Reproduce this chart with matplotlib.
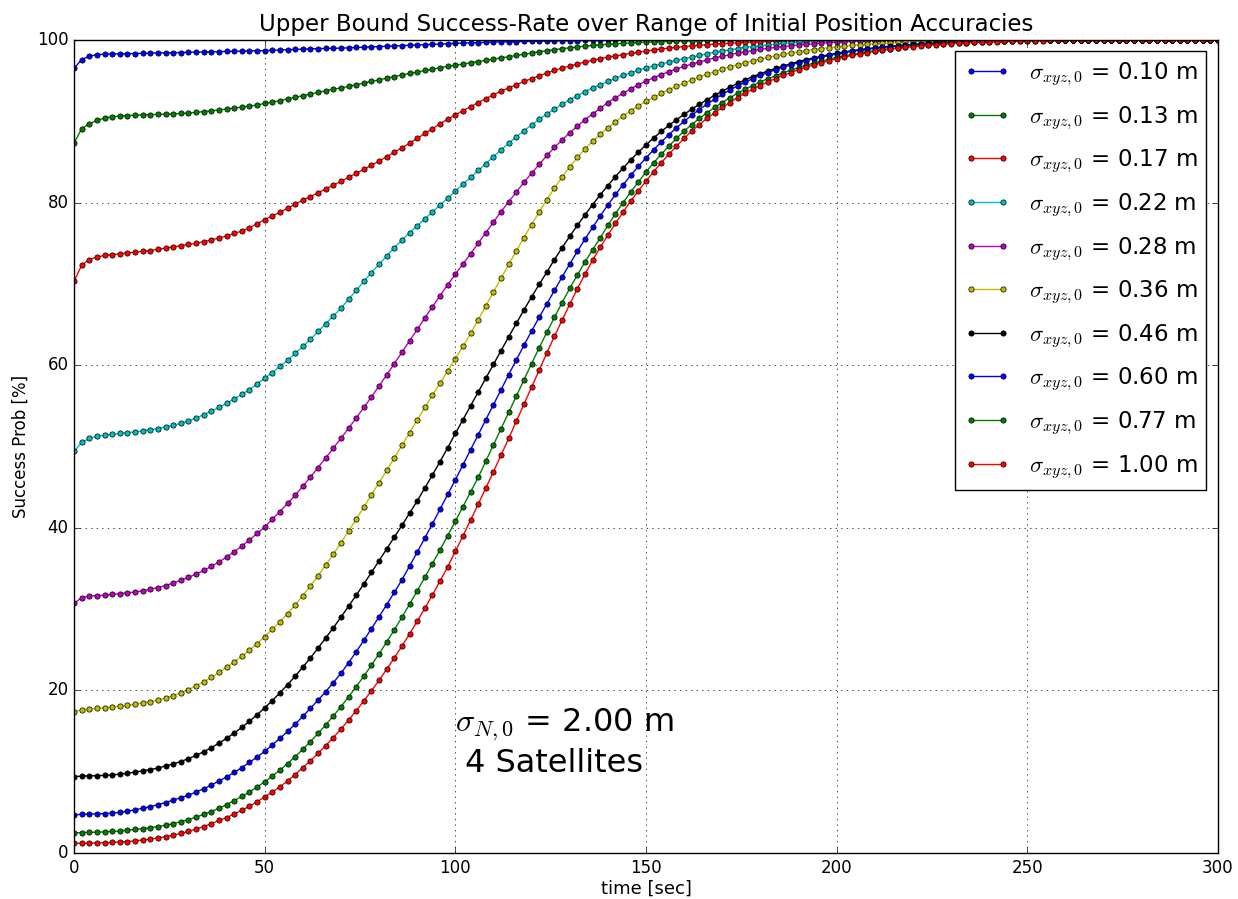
import matplotlib
matplotlib.use('Agg')
import matplotlib.pyplot as plt
import numpy as np

plt.style.use('classic')

# time axis, one sample every 2 sec
t = np.arange(0, 301, 2)

sigma_labels = ['0.10', '0.13', '0.17', '0.22', '0.28', '0.36', '0.46', '0.60', '0.77', '1.00']
line_colors = ['b', 'g', 'r', 'c', 'm', 'y', 'k', 'b', 'g', 'r']

# success probability [%]
p_010 = [96.5, 97.6, 98.0, 98.2, 98.25, 98.3, 98.3, 98.32, 98.34, 98.36,
         98.4, 98.41, 98.42, 98.44, 98.46, 98.5, 98.51, 98.53, 98.55, 98.58,
         98.6, 98.62, 98.64, 98.66, 98.68, 98.7, 98.73, 98.77, 98.81, 98.85,
         98.9, 98.92, 98.94, 98.96, 98.98, 99.0, 99.04, 99.08, 99.12, 99.16,
         99.2, 99.24, 99.28, 99.32, 99.36, 99.4, 99.44, 99.48, 99.52, 99.56,
         99.6, 99.63, 99.66, 99.69, 99.72, 99.75, 99.77, 99.79, 99.81, 99.83,
         99.85, 99.87, 99.88, 99.9, 99.91, 99.92, 99.93, 99.94, 99.95, 99.96,
         99.96, 99.97, 99.97, 99.98, 99.98, 99.98, 99.99, 99.99, 99.99, 99.99,
         100, 100, 100, 100, 100, 100, 100, 100, 100, 100,
         100, 100, 100, 100, 100, 100, 100, 100, 100, 100,
         100, 100, 100, 100, 100, 100, 100, 100, 100, 100,
         100, 100, 100, 100, 100, 100, 100, 100, 100, 100,
         100, 100, 100, 100, 100, 100, 100, 100, 100, 100,
         100, 100, 100, 100, 100, 100, 100, 100, 100, 100,
         100, 100, 100, 100, 100, 100, 100, 100, 100, 100,
         100]

p_013 = [87.3, 89.1, 89.7, 90.1, 90.4, 90.55, 90.65, 90.7, 90.75, 90.8,
         90.82, 90.85, 90.88, 90.92, 90.96, 91.0, 91.1, 91.2, 91.3, 91.4,
         91.5, 91.62, 91.75, 91.88, 92.0, 92.2, 92.35, 92.55, 92.75, 92.95,
         93.15, 93.35, 93.55, 93.75, 93.95, 94.1, 94.3, 94.5, 94.7, 94.9,
         95.1, 95.3, 95.5, 95.7, 95.9, 96.05, 96.25, 96.4, 96.6, 96.75,
         96.9, 97.05, 97.2, 97.35, 97.5, 97.65, 97.8, 97.95, 98.1, 98.25,
         98.4, 98.55, 98.7, 98.82, 98.94, 99.05, 99.15, 99.25, 99.33, 99.41,
         99.48, 99.54, 99.6, 99.65, 99.7, 99.74, 99.78, 99.81, 99.84, 99.87,
         99.89, 99.91, 99.93, 99.94, 99.95, 99.96, 99.97, 99.98, 99.98, 99.99,
         99.99, 99.99, 100, 100, 100, 100, 100, 100, 100, 100,
         100, 100, 100, 100, 100, 100, 100, 100, 100, 100,
         100, 100, 100, 100, 100, 100, 100, 100, 100, 100,
         100, 100, 100, 100, 100, 100, 100, 100, 100, 100,
         100, 100, 100, 100, 100, 100, 100, 100, 100, 100,
         100, 100, 100, 100, 100, 100, 100, 100, 100, 100,
         100]

p_017 = [70.3, 72.3, 73.0, 73.3, 73.5, 73.6, 73.7, 73.8, 73.9, 74.0,
         74.1, 74.25, 74.4, 74.55, 74.7, 74.85, 75.0, 75.2, 75.4, 75.65,
         75.9, 76.2, 76.5, 76.9, 77.4, 77.9, 78.35, 78.8, 79.3, 79.8,
         80.3, 80.75, 81.2, 81.7, 82.15, 82.6, 83.1, 83.6, 84.1, 84.6,
         85.1, 85.65, 86.2, 86.75, 87.3, 87.9, 88.5, 89.1, 89.7, 90.25,
         90.8, 91.3, 91.8, 92.3, 92.8, 93.25, 93.7, 94.1, 94.5, 94.9,
         95.25, 95.6, 95.95, 96.25, 96.55, 96.8, 97.05, 97.3, 97.5, 97.7,
         97.9, 98.05, 98.2, 98.35, 98.5, 98.65, 98.78, 98.9, 99.0, 99.1,
         99.2, 99.28, 99.36, 99.43, 99.5, 99.56, 99.62, 99.67, 99.72, 99.76,
         99.8, 99.83, 99.86, 99.89, 99.91, 99.93, 99.95, 99.96, 99.97, 99.98,
         99.99, 99.99, 100, 100, 100, 100, 100, 100, 100, 100,
         100, 100, 100, 100, 100, 100, 100, 100, 100, 100,
         100, 100, 100, 100, 100, 100, 100, 100, 100, 100,
         100, 100, 100, 100, 100, 100, 100, 100, 100, 100,
         100, 100, 100, 100, 100, 100, 100, 100, 100, 100,
         100]

p_022 = [49.4, 50.5, 51.0, 51.25, 51.4, 51.5, 51.6, 51.7, 51.8, 51.9,
         52.05, 52.2, 52.4, 52.6, 52.85, 53.15, 53.5, 53.9, 54.35, 54.8,
         55.3, 55.85, 56.4, 57.0, 57.7, 58.4, 59.1, 59.85, 60.6, 61.45,
         62.3, 63.2, 64.15, 65.1, 66.05, 67.0, 68.1, 69.2, 70.3, 71.4,
         72.4, 73.45, 74.45, 75.4, 76.3, 77.15, 78.0, 78.85, 79.7, 80.55,
         81.4, 82.25, 83.1, 83.95, 84.8, 85.65, 86.5, 87.3, 88.1, 88.85,
         89.55, 90.25, 90.9, 91.5, 92.1, 92.65, 93.15, 93.65, 94.1, 94.5,
         94.9, 95.3, 95.65, 95.95, 96.25, 96.55, 96.8, 97.05, 97.3, 97.5,
         97.7, 97.9, 98.1, 98.3, 98.5, 98.65, 98.8, 98.95, 99.1, 99.2,
         99.3, 99.4, 99.5, 99.58, 99.65, 99.72, 99.78, 99.83, 99.87, 99.9,
         99.93, 99.95, 99.97, 99.98, 99.99, 100, 100, 100, 100, 100,
         100, 100, 100, 100, 100, 100, 100, 100, 100, 100,
         100, 100, 100, 100, 100, 100, 100, 100, 100, 100,
         100, 100, 100, 100, 100, 100, 100, 100, 100, 100,
         100, 100, 100, 100, 100, 100, 100, 100, 100, 100,
         100]

p_028 = [30.7, 31.4, 31.6, 31.65, 31.7, 31.8, 31.9, 32.0, 32.1, 32.25,
         32.45, 32.65, 32.9, 33.2, 33.55, 33.9, 34.3, 34.75, 35.25, 35.8,
         36.4, 37.05, 37.75, 38.5, 39.3, 40.1, 41.05, 42.0, 43.0, 44.0,
         45.1, 46.25, 47.4, 48.6, 49.8, 51.0, 52.25, 53.5, 54.8, 56.1,
         57.45, 58.8, 60.2, 61.6, 63.0, 64.4, 65.8, 67.2, 68.55, 69.9,
         71.2, 72.45, 73.7, 75.0, 76.3, 77.6, 78.9, 80.1, 81.3, 82.5,
         83.6, 84.7, 85.8, 86.8, 87.7, 88.6, 89.4, 90.2, 90.9, 91.6,
         92.3, 92.9, 93.45, 94.0, 94.5, 94.95, 95.35, 95.75, 96.1, 96.45,
         96.75, 97.05, 97.3, 97.55, 97.8, 98.0, 98.2, 98.4, 98.55, 98.7,
         98.85, 98.98, 99.1, 99.2, 99.3, 99.4, 99.48, 99.55, 99.62, 99.68,
         99.74, 99.79, 99.83, 99.87, 99.9, 99.93, 99.95, 99.97, 99.98, 99.99,
         100, 100, 100, 100, 100, 100, 100, 100, 100, 100,
         100, 100, 100, 100, 100, 100, 100, 100, 100, 100,
         100, 100, 100, 100, 100, 100, 100, 100, 100, 100,
         100, 100, 100, 100, 100, 100, 100, 100, 100, 100,
         100]

p_036 = [17.4, 17.6, 17.7, 17.8, 17.85, 17.95, 18.05, 18.15, 18.3, 18.45,
         18.6, 18.8, 19.05, 19.35, 19.7, 20.1, 20.55, 21.05, 21.6, 22.2,
         22.85, 23.5, 24.2, 24.95, 25.75, 26.6, 27.5, 28.45, 29.45, 30.5,
         31.65, 32.85, 34.1, 35.4, 36.75, 38.15, 39.6, 41.05, 42.55, 44.05,
         45.55, 47.05, 48.6, 50.15, 51.7, 53.25, 54.8, 56.3, 57.8, 59.3,
         60.8, 62.3, 63.9, 65.6, 67.3, 69.0, 70.7, 72.4, 74.05, 75.7,
         77.3, 78.85, 80.35, 81.8, 83.15, 84.4, 85.55, 86.6, 87.55, 88.4,
         89.2, 89.95, 90.65, 91.3, 91.9, 92.45, 92.95, 93.45, 93.9, 94.3,
         94.7, 95.1, 95.45, 95.8, 96.1, 96.4, 96.7, 96.95, 97.2, 97.45,
         97.65, 97.85, 98.05, 98.25, 98.4, 98.55, 98.7, 98.83, 98.95, 99.06,
         99.16, 99.25, 99.34, 99.42, 99.49, 99.55, 99.61, 99.66, 99.71, 99.75,
         99.79, 99.82, 99.85, 99.88, 99.9, 99.92, 99.94, 99.95, 99.96, 99.97,
         99.98, 99.98, 99.99, 99.99, 100, 100, 100, 100, 100, 100,
         100, 100, 100, 100, 100, 100, 100, 100, 100, 100,
         100, 100, 100, 100, 100, 100, 100, 100, 100, 100,
         100]

p_046 = [9.4, 9.45, 9.5, 9.5, 9.55, 9.6, 9.7, 9.8, 9.95, 10.1,
         10.25, 10.45, 10.7, 10.95, 11.25, 11.6, 12.0, 12.45, 12.95, 13.5,
         14.1, 14.75, 15.45, 16.2, 17.0, 17.85, 18.75, 19.7, 20.7, 21.75,
         22.85, 24.0, 25.2, 26.45, 27.7, 29.0, 30.35, 31.7, 33.1, 34.5,
         35.95, 37.4, 38.85, 40.3, 41.8, 43.3, 44.9, 46.5, 48.15, 49.85,
         51.6, 53.3, 55.0, 56.7, 58.4, 60.1, 61.8, 63.5, 65.15, 66.8,
         68.4, 69.95, 71.45, 73.0, 74.45, 75.85, 77.2, 78.5, 79.75, 80.95,
         82.1, 83.2, 84.25, 85.25, 86.2, 87.1, 87.95, 88.75, 89.5, 90.2,
         90.85, 91.5, 92.1, 92.65, 93.2, 93.7, 94.2, 94.65, 95.1, 95.5,
         95.85, 96.2, 96.5, 96.8, 97.1, 97.35, 97.6, 97.8, 98.0, 98.2,
         98.38, 98.54, 98.69, 98.82, 98.94, 99.05, 99.15, 99.24, 99.32, 99.4,
         99.47, 99.53, 99.59, 99.64, 99.69, 99.73, 99.77, 99.8, 99.83, 99.86,
         99.88, 99.9, 99.92, 99.94, 99.95, 99.96, 99.97, 99.98, 99.98, 99.99,
         99.99, 100, 100, 100, 100, 100, 100, 100, 100, 100,
         100, 100, 100, 100, 100, 100, 100, 100, 100, 100,
         100]

p_060 = [4.7, 4.75, 4.8, 4.8, 4.85, 4.9, 5.0, 5.15, 5.3, 5.5,
         5.7, 5.95, 6.2, 6.5, 6.8, 7.1, 7.5, 7.9, 8.35, 8.85,
         9.35, 9.9, 10.5, 11.15, 11.8, 12.5, 13.3, 14.1, 14.95, 15.85,
         16.8, 17.8, 18.8, 19.85, 20.95, 22.1, 23.4, 24.75, 26.15, 27.6,
         29.05, 30.55, 32.05, 33.6, 35.3, 37.0, 38.75, 40.5, 42.3, 44.1,
         45.9, 47.75, 49.6, 51.45, 53.3, 55.15, 57.0, 58.85, 60.65, 62.45,
         64.2, 65.9, 67.55, 69.2, 70.85, 72.45, 74.0, 75.5, 76.95, 78.35,
         79.7, 81.0, 82.2, 83.35, 84.45, 85.5, 86.5, 87.45, 88.35, 89.2,
         90.0, 90.75, 91.45, 92.1, 92.7, 93.3, 93.85, 94.35, 94.8, 95.25,
         95.65, 96.0, 96.35, 96.65, 96.95, 97.2, 97.45, 97.7, 97.9, 98.1,
         98.28, 98.45, 98.6, 98.74, 98.87, 98.98, 99.08, 99.18, 99.27, 99.35,
         99.42, 99.49, 99.55, 99.6, 99.65, 99.7, 99.74, 99.78, 99.81, 99.84,
         99.87, 99.89, 99.91, 99.93, 99.94, 99.95, 99.96, 99.97, 99.98, 99.98,
         99.99, 99.99, 100, 100, 100, 100, 100, 100, 100, 100,
         100, 100, 100, 100, 100, 100, 100, 100, 100, 100,
         100]

p_077 = [2.5, 2.5, 2.55, 2.55, 2.6, 2.65, 2.7, 2.8, 2.9, 3.0,
         3.1, 3.25, 3.4, 3.6, 3.85, 4.1, 4.4, 4.75, 5.1, 5.5,
         5.95, 6.45, 6.95, 7.5, 8.1, 8.75, 9.45, 10.2, 11.0, 11.85,
         12.75, 13.7, 14.7, 15.75, 16.85, 18.0, 19.2, 20.45, 21.75, 23.1,
         24.5, 25.95, 27.45, 29.0, 30.6, 32.25, 33.9, 35.6, 37.3, 39.05,
         40.8, 42.6, 44.4, 46.2, 48.2, 50.2, 52.2, 54.2, 56.2, 58.2,
         60.2, 62.15, 64.05, 65.9, 67.7, 69.45, 71.1, 72.7, 74.2, 75.65,
         77.2, 78.65, 80.0, 81.3, 82.55, 83.75, 84.9, 85.95, 86.95, 87.9,
         88.8, 89.6, 90.35, 91.05, 91.7, 92.3, 92.9, 93.45, 93.95, 94.4,
         94.85, 95.25, 95.6, 95.95, 96.3, 96.6, 96.9, 97.15, 97.4, 97.65,
         97.85, 98.05, 98.23, 98.4, 98.55, 98.7, 98.83, 98.95, 99.06, 99.16,
         99.25, 99.33, 99.4, 99.47, 99.53, 99.58, 99.63, 99.68, 99.72, 99.76,
         99.79, 99.82, 99.85, 99.87, 99.89, 99.91, 99.93, 99.94, 99.95, 99.96,
         99.97, 99.98, 99.98, 99.99, 99.99, 100, 100, 100, 100, 100,
         100, 100, 100, 100, 100, 100, 100, 100, 100, 100,
         100]

p_100 = [1.2, 1.2, 1.2, 1.25, 1.25, 1.3, 1.35, 1.4, 1.5, 1.6,
         1.7, 1.85, 2.0, 2.2, 2.4, 2.65, 2.95, 3.25, 3.6, 4.0,
         4.35, 4.8, 5.25, 5.75, 6.3, 6.9, 7.5, 8.15, 8.85, 9.65,
         10.5, 11.35, 12.25, 13.2, 14.2, 15.25, 16.35, 17.5, 18.7, 19.95,
         21.25, 22.6, 24.0, 25.45, 26.95, 28.5, 30.1, 31.75, 33.45, 35.2,
         37.1, 39.0, 40.95, 42.9, 44.9, 46.9, 48.95, 51.0, 53.1, 55.2,
         57.3, 59.4, 61.5, 63.55, 65.55, 67.5, 69.4, 71.2, 72.9, 74.5,
         76.0, 77.45, 78.85, 80.2, 81.45, 82.65, 83.8, 84.9, 85.95, 86.95,
         87.9, 88.8, 89.6, 90.35, 91.05, 91.7, 92.3, 92.9, 93.45, 93.95,
         94.4, 94.85, 95.25, 95.65, 96.0, 96.35, 96.65, 96.95, 97.2, 97.45,
         97.7, 97.9, 98.1, 98.28, 98.45, 98.6, 98.74, 98.87, 98.99, 99.1,
         99.2, 99.29, 99.37, 99.44, 99.5, 99.56, 99.61, 99.66, 99.7, 99.74,
         99.78, 99.81, 99.84, 99.86, 99.88, 99.9, 99.92, 99.93, 99.94, 99.95,
         99.96, 99.97, 99.98, 99.98, 99.99, 99.99, 100, 100, 100, 100,
         100, 100, 100, 100, 100, 100, 100, 100, 100, 100,
         100]

curves = [p_010, p_013, p_017, p_022, p_028, p_036, p_046, p_060, p_077, p_100]

fig = plt.figure(figsize=(12.38, 8.99), facecolor='white')
ax = fig.add_axes([0.0598, 0.0512, 0.9240, 0.9043])

for vals, lab, col in zip(curves, sigma_labels, line_colors):
    ax.plot(t, vals, '-o', color=col, markersize=3.8, markeredgecolor='k',
            markeredgewidth=0.5, label=r'$\sigma_{xyz,0}$ = %s m' % lab)

ax.set_xlim(0, 300)
ax.set_ylim(0, 100)
ax.grid(True)
ax.set_xlabel('time [sec]', fontsize=13, labelpad=2)
ax.set_ylabel('Success Prob [%]', fontsize=12)
ax.set_title('Upper Bound Success-Rate over Range of Initial Position Accuracies',
             fontsize=16.5, y=1.003)
ax.tick_params(labelsize=12)

ax.text(100, 10, r'$\sigma_{N,0}$ = 2.00 m' + '\n 4 Satellites', fontsize=23)

ax.legend(loc='upper right', fontsize=16.5, numpoints=2, labelspacing=0.7)

fig.savefig('out.png', dpi=100, facecolor='white')
